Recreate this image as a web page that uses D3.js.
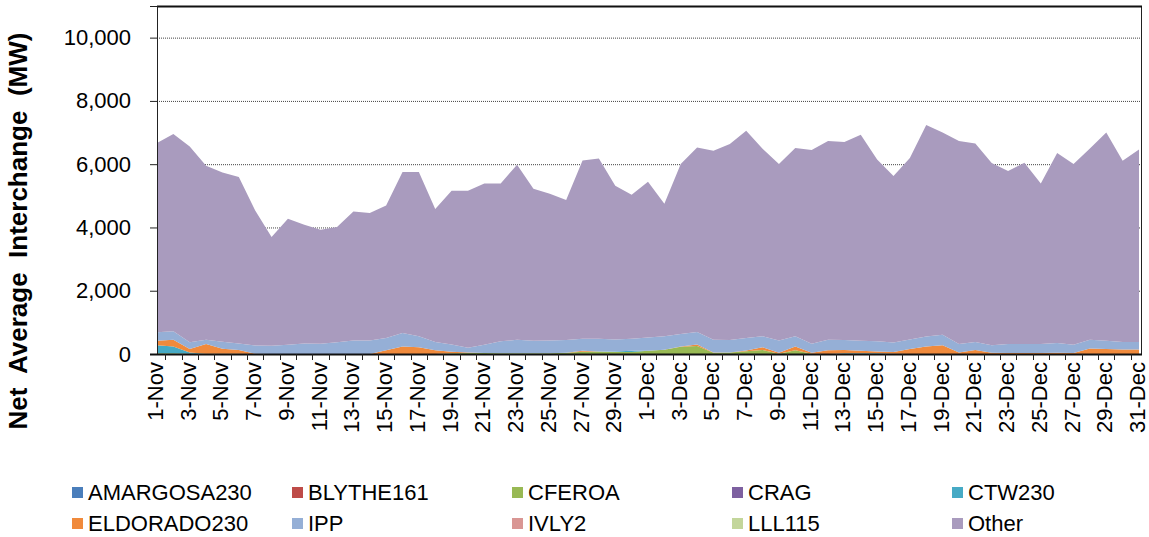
<!DOCTYPE html>
<html><head><meta charset="utf-8">
<script src="https://cdn.jsdelivr.net/npm/d3@7"></script>
<style>
html,body{margin:0;padding:0;background:#fff;}
text{font-family:Arial,"Liberation Sans",sans-serif;}
</style></head>
<body><svg id="c" width="1149" height="537"></svg>
<script>
const days = [];
for (let d = 1; d <= 30; d++) days.push(d + "-Nov");
for (let d = 1; d <= 31; d++) days.push(d + "-Dec");

const seriesNames = ["AMARGOSA230","BLYTHE161","CFEROA","CRAG","CTW230","ELDORADO230","IPP","IVLY2","LLL115","Other"];
const seriesColors = ["#4A7EBB","#BE4B48","#98B954","#7D60A0","#46AAC5","#F08A3C","#95AFD6","#D99694","#C3D69B","#A99BBE"];

const AMARGOSA230 = new Array(61).fill(0);
const BLYTHE161 = new Array(61).fill(0);
const CRAG = new Array(61).fill(0);
const IVLY2 = new Array(61).fill(0);
const LLL115 = new Array(61).fill(0);
const CFEROA = [25,25,10,5,5,5,0,0,0,0, 0,0,0,0,0,0,0,0,25,30, 30,25,20,20,20,40,70,80,60,60, 100,135,230,250,40,50,90,130,10,120, 10,0,0,0,0,0,0,0,0,0, 0,0,0,0,0,0,0,0,0,0, 0];
const CTW230 = [250,215,40,0,0,0,0,0,0,0, 0,0,0,0,0,0,0,0,0,0, 0,0,0,0,0,0,0,0,20,40, 0,0,0,0,0,0,0,0,0,0, 0,0,20,20,20,10,0,0,0,0, 0,0,0,0,0,0,0,0,0,0, 0];
const ELDORADO230 = [145,210,105,310,160,120,10,0,0,0, 0,0,0,0,115,240,215,115,45,15, 0,0,0,0,0,0,30,0,0,0, 0,0,10,50,10,0,20,80,30,115, 30,120,105,80,60,50,155,240,275,50, 125,40,30,30,30,40,30,170,155,145, 145];
const IPP = [264,270,214,138,220,205,260,262,293,330, 326,375,430,430,390,423,345,265,230,155, 265,375,430,400,410,400,385,405,380,385, 425,425,390,395,400,390,395,350,390,325, 285,330,315,320,320,305,305,310,335,265, 255,235,285,285,285,310,265,280,265,235, 235];
const Other = [5983,6232,6191,5497,5355,5263,4268,3435,3982,3756, 3602,3638,4076,4026,4191,5088,5191,4202,4860,4960, 5096,4991,5532,4804,4635,4426,5633,5696,4858,4549, 4920,4190,5374,5834,5974,6196,6551,5927,5574,5950, 6121,6281,6259,6510,5750,5260,5734,6686,6393,6416, 6275,5761,5468,5730,5076,6002,5709,6047,6583,5728, 6082];

const yTicks = [0,2000,4000,6000,8000,10000];

const seriesData = [AMARGOSA230,BLYTHE161,CFEROA,CRAG,CTW230,ELDORADO230,IPP,IVLY2,LLL115,Other];
const rows = days.map((d,i) => {
  const r = {i};
  seriesNames.forEach((n,k) => r[n] = seriesData[k][i]);
  return r;
});

const svg = d3.select("#c");
const L = 157, R = 1142, T = 6, B = 354;
const x = d3.scaleLinear().domain([0, days.length-1]).range([L, 1139]);
const y = d3.scaleLinear().domain([0, 11000]).range([B, T]);

// gridlines
svg.append("g").selectAll("line").data(yTicks.filter(v=>v>0)).join("line")
  .attr("x1", L).attr("x2", R).attr("y1", d=>y(d)+0.5).attr("y2", d=>y(d)+0.5)
  .attr("stroke","#444").attr("stroke-width",1).attr("stroke-dasharray","1,1");

const stack = d3.stack().keys(seriesNames)(rows);
const area = d3.area().x(d=>x(d.data.i)).y0(d=>y(d[0])).y1(d=>y(d[1]));
svg.append("g").selectAll("path").data(stack).join("path")
  .attr("d", area).attr("fill", (d,k)=>seriesColors[k]);

// frame
svg.append("rect").attr("x",L+0.5).attr("y",T+0.5).attr("width",R-L-1).attr("height",B-T)
  .attr("fill","none").attr("stroke","#222").attr("stroke-width",1);
svg.append("line").attr("x1",L).attr("x2",R).attr("y1",T+0.5).attr("y2",T+0.5).attr("stroke","#111").attr("stroke-width",2);

// y axis
const ya = d3.axisLeft(y).tickValues(yTicks).tickSize(7).tickPadding(19).tickFormat(d3.format(","));
const yg = svg.append("g").attr("transform",`translate(${L},0)`).call(ya);
yg.select(".domain").attr("stroke","#222");
yg.selectAll(".tick line").attr("stroke","#222");
yg.selectAll(".tick text").attr("font-size",22).attr("fill","#000").attr("font-family","Arial, 'Liberation Sans', sans-serif");

// x axis
const step = x(1)-x(0);
const xa = svg.append("g");
xa.append("line").attr("x1",L-7).attr("x2",R).attr("y1",B+0.5).attr("y2",B+0.5).attr("stroke","#111").attr("stroke-width",2);
xa.selectAll("line.tk").data(d3.range(0, days.length-1)).join("line").attr("class","tk")
  .attr("x1",d=>Math.round(x(d)+step/2)+0.5).attr("x2",d=>Math.round(x(d)+step/2)+0.5)
  .attr("y1",B).attr("y2",B+6).attr("stroke","#222");
xa.selectAll("text").data(days.map((d,i)=>({d,i})).filter(o=>o.i%2===0)).join("text")
  .attr("transform",o=>`translate(${x(o.i)+6},${B+8}) rotate(-90)`)
  .attr("text-anchor","end").attr("font-size",22).attr("fill","#000")
  .text(o=>o.d);

// y title
svg.append("text").attr("transform","translate(27,231) rotate(-90)")
  .attr("text-anchor","middle").attr("font-size",26).attr("font-weight","bold")
  .attr("xml:space","preserve").style("white-space","pre")
  .text("Net  Average  Interchange  (MW)");

// legend
const lg = svg.append("g");
seriesNames.forEach((n,k) => {
  const col = k%5, row = Math.floor(k/5);
  const gx = 72 + col*220, gy = 487 + row*31;
  lg.append("rect").attr("x",gx).attr("y",gy).attr("width",11).attr("height",11).attr("fill",seriesColors[k]);
  lg.append("text").attr("x",gx+16).attr("y",gy+13).attr("font-size",22).attr("fill","#000").text(n);
});
</script></body></html>
